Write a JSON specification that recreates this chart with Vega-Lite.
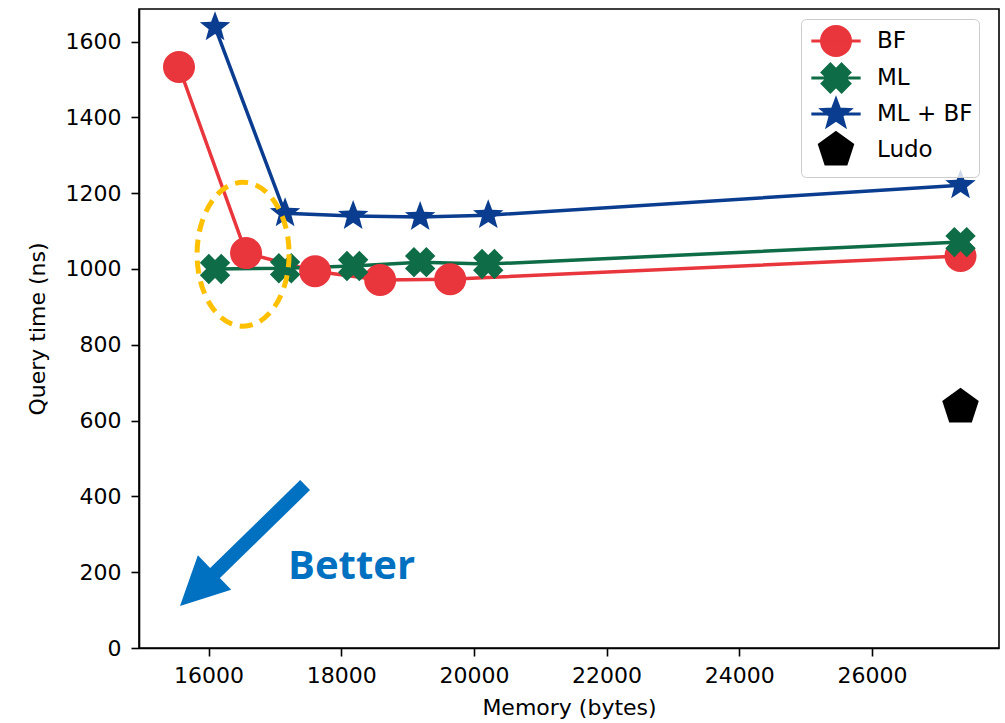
{
  "$schema": "https://vega.github.io/schema/vega-lite/v6.json",
  "width": 860,
  "height": 639,
  "autosize": {"type": "none"},
  "padding": {"left": 139, "top": 9, "right": 6, "bottom": 75},
  "background": "white",
  "config": {
    "view": {"stroke": "#000000", "strokeWidth": 1.6},
    "font": "DejaVu Sans"
  },
  "datasets": {
    "series": [
      {"series": "BF", "memory": 15555, "query": 1533},
      {"series": "BF", "memory": 16566, "query": 1042},
      {"series": "BF", "memory": 17607, "query": 994},
      {"series": "BF", "memory": 18587, "query": 971},
      {"series": "BF", "memory": 19643, "query": 973},
      {"series": "BF", "memory": 27335, "query": 1034},
      {"series": "ML", "memory": 16098, "query": 1000},
      {"series": "ML", "memory": 17154, "query": 1002},
      {"series": "ML", "memory": 18180, "query": 1008},
      {"series": "ML", "memory": 19190, "query": 1018},
      {"series": "ML", "memory": 20216, "query": 1013},
      {"series": "ML", "memory": 27335, "query": 1071},
      {"series": "ML + BF", "memory": 16098, "query": 1638},
      {"series": "ML + BF", "memory": 17154, "query": 1147},
      {"series": "ML + BF", "memory": 18180, "query": 1140},
      {"series": "ML + BF", "memory": 19190, "query": 1137},
      {"series": "ML + BF", "memory": 20216, "query": 1142},
      {"series": "ML + BF", "memory": 27335, "query": 1221},
      {"series": "Ludo", "memory": 27335, "query": 636}
    ],
    "highlight": [
      {"memory": 16521, "query": 1039}
    ],
    "arrow": [
      {"x_from": 17456, "y_from": 430, "x_to": 16083, "y_to": 195, "x_tip": 15570, "y_tip": 111}
    ],
    "caption": [
      {"memory": 17199, "query": 182, "label": "Better"}
    ]
  },
  "layer": [
    {
      "data": {"name": "series"},
      "transform": [{"filter": "datum.series !== 'Ludo'"}],
      "mark": {"type": "line", "strokeWidth": 3.5},
      "encoding": {
        "x": {
          "field": "memory", "type": "quantitative",
          "scale": {"domain": [14952, 27915], "nice": false, "zero": false},
          "axis": {
            "title": "Memory (bytes)",
            "values": [16000, 18000, 20000, 22000, 24000, 26000],
            "format": "d", "grid": false,
            "domainColor": "#000000", "domainWidth": 1.6,
            "tickColor": "#000000", "tickWidth": 1.6, "tickSize": 8,
            "labelPadding": 9, "labelFontSize": 22, "labelFont": "DejaVu Sans", "labelColor": "#000000",
            "labelFlush": false, "labelOverlap": false,
            "titleFont": "DejaVu Sans", "titleFontSize": 22, "titleFontWeight": "normal", "titleColor": "#000000",
            "titlePadding": 11
          }
        },
        "y": {
          "field": "query", "type": "quantitative",
          "scale": {"domain": [0, 1686], "nice": false, "zero": false},
          "axis": {
            "title": "Query time (ns)",
            "values": [0, 200, 400, 600, 800, 1000, 1200, 1400, 1600],
            "format": "d", "grid": false,
            "domainColor": "#000000", "domainWidth": 1.6,
            "tickColor": "#000000", "tickWidth": 1.6, "tickSize": 8,
            "labelPadding": 10, "labelFontSize": 22, "labelFont": "DejaVu Sans", "labelColor": "#000000",
            "labelFlush": false, "labelOverlap": false,
            "titleFont": "DejaVu Sans", "titleFontSize": 22, "titleFontWeight": "normal", "titleColor": "#000000",
            "titlePadding": 16
          }
        },
        "color": {
          "field": "series", "type": "nominal",
          "scale": {
            "domain": ["BF", "ML", "ML + BF", "Ludo"],
            "range": ["#e9353c", "#0e6c46", "#0a3d8f", "#000000"]
          },
          "legend": {
            "title": null, "orient": "none", "legendX": 662, "legendY": 10,
            "padding": 6, "fillColor": "rgba(255,255,255,0.8)", "strokeColor": "#cccccc", "cornerRadius": 5,
            "symbolSize": 841, "symbolOffset": 13, "symbolStrokeWidth": 3, "labelOffset": 25,
            "labelFont": "DejaVu Sans", "labelFontSize": 23, "labelColor": "#000000", "labelLimit": 300,
            "rowPadding": -6, "symbolOpacity": 1
          }
        }
      }
    },
    {
      "data": {"name": "series"},
      "mark": {"type": "point", "filled": true, "size": 1024, "opacity": 1, "strokeWidth": 0},
      "encoding": {
        "x": {"field": "memory", "type": "quantitative"},
        "y": {"field": "query", "type": "quantitative"},
        "color": {
          "field": "series", "type": "nominal",
          "legend": {
            "title": null, "orient": "none", "legendX": 662, "legendY": 10,
            "padding": 6, "fillColor": "rgba(255,255,255,0.8)", "strokeColor": "#cccccc", "cornerRadius": 5,
            "symbolSize": 841, "symbolOffset": 13, "symbolStrokeWidth": 3, "labelOffset": 25,
            "labelFont": "DejaVu Sans", "labelFontSize": 23, "labelColor": "#000000", "labelLimit": 300,
            "rowPadding": -6, "symbolOpacity": 1
          }
        },
        "stroke": {
          "field": "series", "type": "nominal",
          "scale": {
            "domain": ["BF", "ML", "ML + BF", "Ludo"],
            "range": ["#e9353c", "#0e6c46", "#0a3d8f", "#000000"]
          },
          "legend": {
            "title": null, "orient": "none", "legendX": 662, "legendY": 10,
            "padding": 6, "fillColor": "rgba(255,255,255,0.8)", "strokeColor": "#cccccc", "cornerRadius": 5,
            "symbolSize": 841, "symbolOffset": 13, "symbolStrokeWidth": 3, "labelOffset": 25,
            "labelFont": "DejaVu Sans", "labelFontSize": 23, "labelColor": "#000000", "labelLimit": 300,
            "rowPadding": -6, "symbolOpacity": 1
          }
        },
        "shape": {
          "field": "series", "type": "nominal",
          "scale": {
            "domain": ["BF", "ML", "ML + BF", "Ludo"],
            "range": [
              "M-1.7,0H1.7M1,0C1,0.5523 0.5523,1 0,1C-0.5523,1 -1,0.5523 -1,0C-1,-0.5523 -0.5523,-1 0,-1C0.5523,-1 1,-0.5523 1,0Z",
              "M-1.7,0H1.7M0.388,-0.95L0.95,-0.388L0.561,0L0.95,0.388L0.388,0.95L0,0.561L-0.388,0.95L-0.95,0.388L-0.561,0L-0.95,-0.388L-0.388,-0.95L0,-0.561Z",
              "M-1.7,0H1.7M0,-1L0.247,-0.34L0.951,-0.309L0.399,0.13L0.588,0.809L0,0.42L-0.588,0.809L-0.399,0.13L-0.951,-0.309L-0.247,-0.34Z",
              "M0,-1.2L1.141,-0.371L0.705,0.971L-0.705,0.971L-1.141,-0.371Z"
            ]
          },
          "legend": {
            "title": null, "orient": "none", "legendX": 662, "legendY": 10,
            "padding": 6, "fillColor": "rgba(255,255,255,0.8)", "strokeColor": "#cccccc", "cornerRadius": 5,
            "symbolSize": 841, "symbolOffset": 13, "symbolStrokeWidth": 3, "labelOffset": 25,
            "labelFont": "DejaVu Sans", "labelFontSize": 23, "labelColor": "#000000", "labelLimit": 300,
            "rowPadding": -6, "symbolOpacity": 1
          }
        }
      }
    },
    {
      "data": {"name": "highlight"},
      "mark": {
        "type": "point",
        "shape": "M0.639,0C0.639,0.5523 0.353,1 0,1C-0.353,1 -0.639,0.5523 -0.639,0C-0.639,-0.5523 -0.353,-1 0,-1C0.353,-1 0.639,-0.5523 0.639,0Z",
        "size": 20736,
        "filled": false,
        "stroke": "#ffc000",
        "strokeWidth": 5,
        "strokeDash": [13, 8],
        "opacity": 1
      },
      "encoding": {
        "x": {"field": "memory", "type": "quantitative"},
        "y": {"field": "query", "type": "quantitative"}
      }
    },
    {
      "data": {"name": "arrow"},
      "mark": {"type": "rule", "color": "#0070c0", "strokeWidth": 14, "strokeCap": "butt"},
      "encoding": {
        "x": {"field": "x_from", "type": "quantitative"},
        "y": {"field": "y_from", "type": "quantitative"},
        "x2": {"field": "x_to"},
        "y2": {"field": "y_to"}
      }
    },
    {
      "data": {"name": "arrow"},
      "mark": {
        "type": "point",
        "shape": "M0,0L-1,-2L1,-2Z",
        "size": 2304,
        "angle": 46,
        "filled": true,
        "color": "#0070c0",
        "opacity": 1
      },
      "encoding": {
        "x": {"field": "x_tip", "type": "quantitative"},
        "y": {"field": "y_tip", "type": "quantitative"}
      }
    },
    {
      "data": {"name": "caption"},
      "mark": {
        "type": "text",
        "font": "Open Sans",
        "fontWeight": "bold",
        "fontSize": 40,
        "color": "#0070c0",
        "align": "left",
        "baseline": "alphabetic"
      },
      "encoding": {
        "x": {"field": "memory", "type": "quantitative"},
        "y": {"field": "query", "type": "quantitative"},
        "text": {"field": "label"}
      }
    }
  ]
}
